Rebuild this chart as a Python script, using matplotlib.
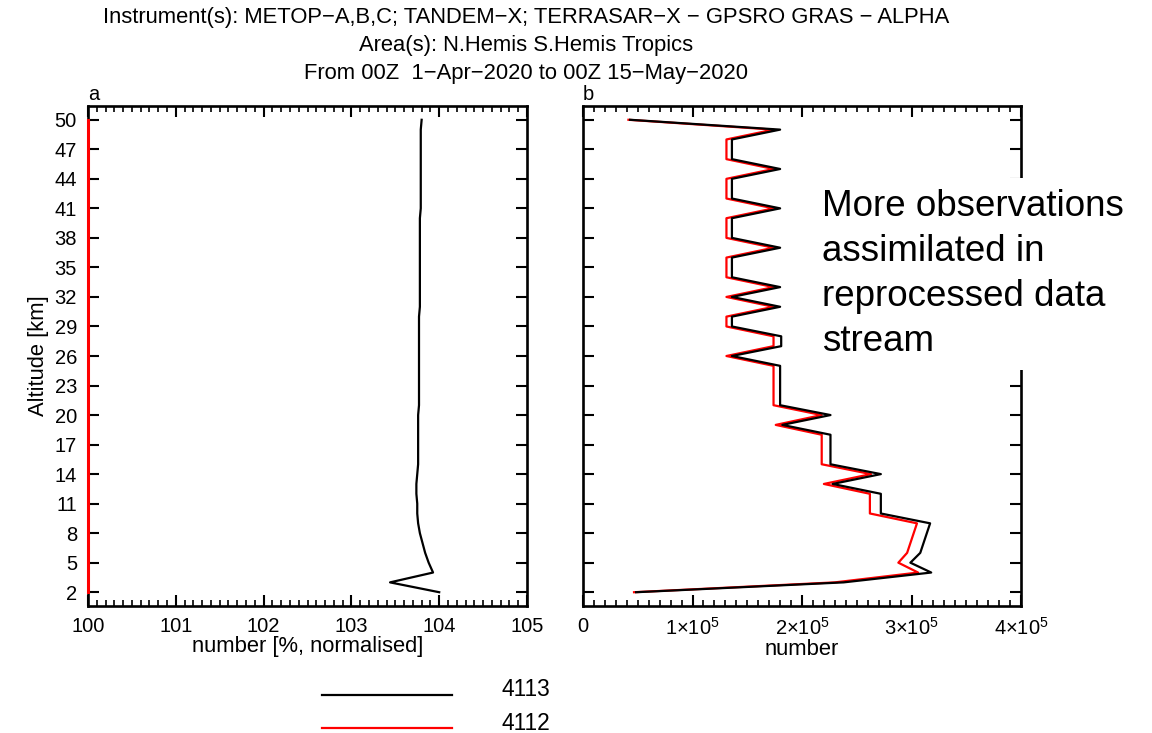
import matplotlib
matplotlib.use('Agg')
import matplotlib.pyplot as plt
from matplotlib.lines import Line2D
from matplotlib.ticker import MultipleLocator, FixedLocator

plt.rcParams['font.family'] = ['Liberation Sans', 'DejaVu Sans']
plt.rcParams['mathtext.fontset'] = 'custom'
plt.rcParams['mathtext.rm'] = 'Liberation Sans'
plt.rcParams['mathtext.it'] = 'Liberation Sans'

# altitude levels [km]
altitude = list(range(2, 51))

# observation counts per level, experiment 4113 (black) and 4112 (red)
count_4113 = [0.485e5, 2.38e5, 3.18e5, 2.99e5, 3.08e5, 3.11e5, 3.14e5, 3.17e5,
              2.72e5, 2.72e5, 2.72e5, 2.28e5, 2.72e5, 2.26e5, 2.26e5, 2.26e5,
              2.26e5, 1.82e5, 2.26e5, 1.80e5, 1.80e5, 1.80e5, 1.80e5, 1.80e5,
              1.36e5, 1.81e5, 1.81e5, 1.36e5, 1.36e5, 1.80e5, 1.36e5, 1.80e5,
              1.36e5, 1.36e5, 1.36e5, 1.80e5, 1.36e5, 1.36e5, 1.36e5, 1.80e5,
              1.36e5, 1.36e5, 1.36e5, 1.80e5, 1.36e5, 1.36e5, 1.36e5, 1.80e5,
              0.43e5]
count_4112 = [0.466e5, 2.30e5, 3.06e5, 2.88e5, 2.96e5, 2.99e5, 3.02e5, 3.05e5,
              2.62e5, 2.62e5, 2.62e5, 2.20e5, 2.63e5, 2.18e5, 2.18e5, 2.18e5,
              2.18e5, 1.76e5, 2.18e5, 1.74e5, 1.74e5, 1.74e5, 1.74e5, 1.74e5,
              1.31e5, 1.74e5, 1.74e5, 1.31e5, 1.31e5, 1.74e5, 1.31e5, 1.74e5,
              1.31e5, 1.31e5, 1.31e5, 1.74e5, 1.31e5, 1.31e5, 1.31e5, 1.74e5,
              1.31e5, 1.31e5, 1.31e5, 1.74e5, 1.31e5, 1.31e5, 1.31e5, 1.74e5,
              0.415e5]

# normalised number [%], 4112 is the reference
norm_4113 = [104.00, 103.44, 103.93, 103.88, 103.84, 103.81, 103.78, 103.76,
             103.75, 103.75, 103.74, 103.74, 103.75, 103.76, 103.76, 103.76,
             103.76, 103.76, 103.76, 103.77, 103.77, 103.77, 103.77, 103.77,
             103.77, 103.77, 103.77, 103.77, 103.77, 103.78, 103.78, 103.78,
             103.78, 103.78, 103.78, 103.78, 103.78, 103.78, 103.78, 103.79,
             103.79, 103.79, 103.79, 103.79, 103.79, 103.79, 103.79, 103.79,
             103.80]
norm_4112 = [100.0] * 49

exps = ['4113', '4112']
colours = ['black', '#ff0000']

title_lines = ['Instrument(s): METOP\u2212A,B,C; TANDEM\u2212X; TERRASAR\u2212X \u2212 GPSRO GRAS \u2212 ALPHA',
               'Area(s): N.Hemis S.Hemis Tropics',
               'From 00Z  1\u2212Apr\u22122020 to 00Z 15\u2212May\u22122020']
y_ticks = list(range(2, 51, 3))
xb_ticks = [0, 1e5, 2e5, 3e5, 4e5]
xb_labels = ['0', r'1$\times$10$^5$', r'2$\times$10$^5$', r'3$\times$10$^5$', r'4$\times$10$^5$']

W, H = 1152, 733
fs_tick = 14.5
fs_lab = 15.8

fig = plt.figure(figsize=(W / 100, H / 100), dpi=100)
axa = fig.add_axes([88 / W, 1 - 606 / H, 439 / W, 500 / H])
axb = fig.add_axes([583 / W, 1 - 606 / H, 438 / W, 500 / H])

axa.plot(norm_4113, altitude, color=colours[0], lw=1.6, clip_on=False, zorder=3)
axa.plot(norm_4112, altitude, color=colours[1], lw=2.2, clip_on=False, zorder=4)
axb.plot(count_4113, altitude, color=colours[0], lw=1.6, zorder=3)
axb.plot(count_4112, altitude, color=colours[1], lw=1.6, zorder=2)

axa.set_xlim(100, 105)
axa.xaxis.set_major_locator(MultipleLocator(1))
axa.xaxis.set_minor_locator(MultipleLocator(0.1))
axb.set_xlim(0, 4e5)
axb.xaxis.set_major_locator(FixedLocator(xb_ticks))
axb.xaxis.set_minor_locator(MultipleLocator(1e4))
axb.set_xticklabels(xb_labels)

for ax in (axa, axb):
    ax.set_ylim(0.6, 51.4)
    ax.set_yticks(y_ticks)
    ax.tick_params(axis='both', which='both', direction='in', top=True, right=True,
                   labelsize=fs_tick, pad=8)
    ax.tick_params(which='major', length=8, width=1.5)
    ax.tick_params(which='minor', length=4, width=1.2)
    for s in ax.spines.values():
        s.set_linewidth(1.9)
axb.tick_params(axis='y', labelleft=False)

axa.set_ylabel('Altitude [km]', fontsize=fs_lab, labelpad=4)
axa.set_xlabel('number [%, normalised]', fontsize=fs_lab, labelpad=0)
axb.set_xlabel('number', fontsize=fs_lab, labelpad=0)

axa.text(0, 1.005, 'a', transform=axa.transAxes, fontsize=fs_tick, ha='left', va='bottom')
axb.text(0, 1.005, 'b', transform=axb.transAxes, fontsize=fs_tick, ha='left', va='bottom')

for i, line in enumerate(title_lines):
    fig.text(526 / W, 1 - (17 + 28.5 * i) / H, line, fontsize=fs_lab, ha='center', va='center')

fig.text(822 / W, 1 - 274 / H,
         'More observations\nassimilated in\nreprocessed data\nstream',
         fontsize=26.5, ha='left', va='center', linespacing=1.36,
         bbox=dict(boxstyle='square,pad=0.32', facecolor='white', edgecolor='none'))

# legend below the left panel
for i, (name, c) in enumerate(zip(exps, colours)):
    y = 1 - (695 + 33 * i) / H
    fig.add_artist(Line2D([322 / W, 452 / W], [y, y], color=c, lw=1.6))
    fig.text(502 / W, y + 5 / H, name, fontsize=16.4, ha='left', va='center')

fig.savefig('out.png', dpi=100)
